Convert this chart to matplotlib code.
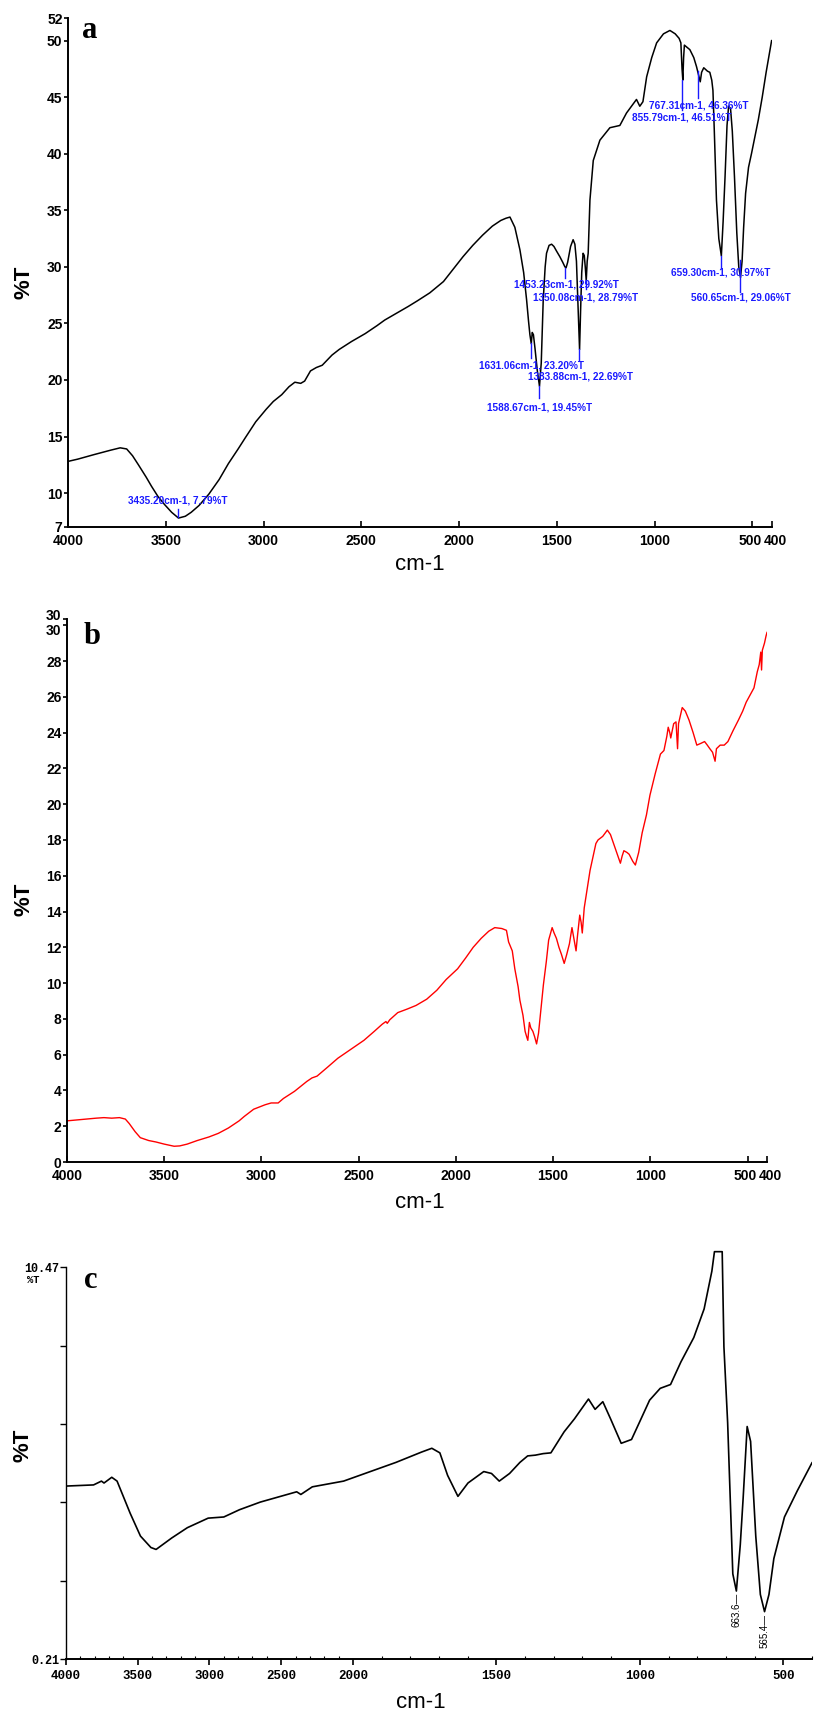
import numpy as np
import matplotlib.pyplot as plt
import matplotlib.transforms as mtransforms
from matplotlib.ticker import FixedLocator

plt.rcParams['font.family'] = ['Liberation Sans Narrow', 'Liberation Sans', 'DejaVu Sans']

# ---------------- panel a : wavenumber (cm-1) / %T ----------------
wn_a = [4000, 3950, 3867, 3780, 3733, 3700, 3670, 3640, 3600, 3573, 3540, 3507, 3470, 3435,
        3400, 3370, 3330, 3280, 3227, 3180, 3130, 3093, 3040, 2987, 2950, 2907, 2870, 2840,
        2810, 2790, 2760, 2730, 2700, 2650, 2613, 2550, 2480, 2420, 2380, 2320, 2260, 2213,
        2150, 2080, 2030, 1980, 1930, 1880, 1830, 1787, 1760, 1740, 1715, 1689, 1670, 1655,
        1645, 1638, 1631, 1626, 1620, 1612, 1600, 1589, 1580, 1570, 1560, 1553, 1540, 1527,
        1515, 1502, 1485, 1470, 1459, 1453, 1445, 1430, 1417, 1408, 1400, 1393, 1384, 1379,
        1373, 1366, 1360, 1355, 1350, 1345, 1340, 1331, 1314, 1280, 1229, 1178, 1144, 1093,
        1076, 1060, 1041, 1015, 990, 955, 922, 895, 875, 866, 860, 856, 852, 848, 820, 800,
        786, 775, 767, 760, 749, 730, 718, 708, 702, 695, 684, 672, 659, 650, 640, 630, 622,
        612, 603, 592, 580, 570, 561, 553, 545, 535, 520, 505, 490, 470, 450, 430, 410, 402]
t_a = [12.8, 13.0, 13.4, 13.8, 14.0, 13.9, 13.3, 12.5, 11.4, 10.6, 9.7, 9.0, 8.3, 7.79,
       7.95, 8.3, 8.9, 9.9, 11.2, 12.6, 13.9, 14.9, 16.3, 17.4, 18.1, 18.7, 19.4, 19.8,
       19.7, 19.9, 20.8, 21.1, 21.3, 22.2, 22.7, 23.4, 24.1, 24.8, 25.3, 25.9, 26.5, 27.0,
       27.7, 28.7, 29.8, 30.9, 31.9, 32.8, 33.6, 34.1, 34.3, 34.4, 33.5, 31.5, 29.5, 27.1,
       25.2, 24.0, 23.2, 24.2, 24.0, 22.8, 20.8, 19.45, 21.5, 27.0, 30.0, 31.2, 31.9, 32.0,
       31.8, 31.4, 30.9, 30.4, 30.0, 29.92, 30.4, 31.8, 32.4, 32.0, 30.5, 27.0, 22.69, 26.0,
       29.5, 31.2, 31.0, 30.0, 28.79, 30.5, 31.2, 35.9, 39.4, 41.2, 42.3, 42.5, 43.6, 44.8,
       44.2, 44.6, 46.8, 48.5, 49.8, 50.6, 50.9, 50.6, 50.2, 49.8, 47.5, 46.51, 48.5, 49.6, 49.2, 48.5,
       47.7, 46.9, 46.36, 47.2, 47.6, 47.3, 47.2, 46.5, 45.6, 42.0, 35.9, 32.5, 30.97, 34.0, 38.0, 42.5, 44.2,
       44.0, 42.0, 38.0, 33.0, 30.0, 29.06, 30.5, 33.5, 36.5, 38.8, 40.0, 41.3, 43.0, 45.0, 47.2, 49.2, 50.0]

# peak labels of panel a: text, label position, marker line (x, y from, y to)
peak_text = ['3435.20cm-1, 7.79%T', '1631.06cm-1, 23.20%T', '1383.88cm-1, 22.69%T',
             '1588.67cm-1, 19.45%T', '1453.23cm-1, 29.92%T', '1350.08cm-1, 28.79%T',
             '659.30cm-1, 30.97%T', '560.65cm-1, 29.06%T', '767.31cm-1, 46.36%T',
             '855.79cm-1, 46.51%T']
peak_lx = [3440, 1629, 1377, 1589, 1449, 1352, 661, 560, 776, 861]
peak_ly = [9.3, 21.3, 20.3, 17.6, 28.4, 27.3, 29.5, 27.3, 44.3, 43.2]
peak_x = [3435.2, 1633, 1386, 1590, 1456, 1352, 662, 564, 858, 777]
peak_y0 = [7.9, 23.3, 22.7, 19.45, 29.9, 28.8, 31.0, 30.6, 46.5, 47.3]
peak_y1 = [8.6, 21.9, 21.8, 18.4, 29.0, 28.0, 29.9, 27.8, 43.9, 44.9]

# ---------------- panel b ----------------
wn_b = [4000, 3950, 3900, 3850, 3810, 3770, 3730, 3700, 3680, 3650, 3623, 3580, 3543, 3500,
        3449, 3420, 3382, 3330, 3270, 3222, 3170, 3115, 3088, 3040, 2981, 2950, 2914, 2887,
        2830, 2767, 2740, 2714, 2660, 2607, 2540, 2473, 2420, 2379, 2360, 2353, 2340, 2299,
        2250, 2205, 2150, 2098, 2050, 1991, 1950, 1911, 1870, 1831, 1800, 1764, 1740, 1729,
        1710, 1697, 1680, 1671, 1655, 1644, 1636, 1630, 1622, 1615, 1604, 1595, 1585, 1575,
        1565, 1550, 1535, 1523, 1505, 1495, 1483, 1470, 1457, 1443, 1430, 1416, 1403, 1395,
        1382, 1375, 1363, 1356, 1350, 1340, 1323, 1310, 1296, 1280, 1269, 1245, 1221, 1205,
        1189, 1170, 1154, 1145, 1136, 1120, 1109, 1090, 1077, 1060, 1042, 1020, 1002, 975,
        948, 930, 915, 908, 900, 895, 880, 868, 860, 855, 836, 820, 801, 780, 761, 740, 721,
        707, 694, 680, 667, 660, 641, 620, 601, 575, 547, 525, 507, 487, 467, 450, 440, 432,
        428, 424, 413, 405, 400]
t_b = [2.30, 2.35, 2.40, 2.45, 2.48, 2.45, 2.48, 2.40, 2.15, 1.70, 1.36, 1.20, 1.12, 1.00,
       0.88, 0.90, 1.00, 1.20, 1.40, 1.60, 1.90, 2.30, 2.55, 2.95, 3.20, 3.30, 3.30, 3.55,
       3.95, 4.50, 4.70, 4.80, 5.30, 5.80, 6.30, 6.80, 7.30, 7.70, 7.85, 7.75, 7.95, 8.35,
       8.55, 8.75, 9.10, 9.60, 10.2, 10.8, 11.4, 12.0, 12.5, 12.9, 13.1, 13.05, 12.95, 12.3,
       11.8, 10.8, 9.8, 9.05, 8.2, 7.3, 7.0, 6.8, 7.8, 7.5, 7.3, 7.0, 6.6, 7.2,
       8.3, 9.9, 11.2, 12.4, 13.1, 12.8, 12.5, 12.0, 11.6, 11.1, 11.6, 12.2, 13.1, 12.6,
       11.8, 12.6, 13.8, 13.4, 12.8, 14.2, 15.4, 16.3, 17.0, 17.8, 18.0, 18.2, 18.55, 18.3,
       17.8, 17.2, 16.7, 17.1, 17.4, 17.3, 17.2, 16.8, 16.6, 17.3, 18.4, 19.4, 20.5, 21.7,
       22.8, 23.0, 23.8, 24.3, 24.0, 23.7, 24.5, 24.6, 23.1, 24.5, 25.4, 25.2, 24.7, 24.0, 23.3, 23.4, 23.5,
       23.3, 23.1, 22.9, 22.4, 23.1, 23.3, 23.3, 23.5, 24.1, 24.7, 25.2, 25.7, 26.1, 26.5, 27.4, 27.8, 28.5,
       27.5, 28.6, 29.0, 29.4, 29.6]

# ---------------- panel c ----------------
wn_c = [4000, 3808, 3753, 3735, 3681, 3644, 3553, 3481, 3408, 3372, 3263, 3154, 3009, 2900,
        2791, 2646, 2392, 2363, 2283, 2065, 1958, 1850, 1761, 1725, 1697, 1670, 1634, 1599,
        1544, 1517, 1490, 1454, 1418, 1391, 1364, 1337, 1310, 1264, 1228, 1179, 1156, 1129,
        1102, 1065, 1029, 1002, 966, 929, 893, 857, 812, 776, 749, 740, 713, 707, 694, 676,
        663.6, 650, 640, 626, 614, 596, 580, 565.4, 550, 533, 496, 451, 400]
t_c = [4.74, 4.77, 4.87, 4.82, 4.97, 4.87, 4.03, 3.43, 3.13, 3.08, 3.38, 3.65, 3.90, 3.93,
       4.12, 4.32, 4.59, 4.52, 4.72, 4.87, 5.07, 5.36, 5.63, 5.73, 5.61, 5.02, 4.47, 4.82,
       5.12, 5.07, 4.87, 5.07, 5.36, 5.53, 5.55, 5.59, 5.61, 6.16, 6.50, 7.02, 6.75, 6.95,
       6.50, 5.86, 5.96, 6.40, 6.99, 7.30, 7.40, 7.99, 8.63, 9.38, 10.37, 10.88, 10.88, 8.39, 6.40, 2.44,
       1.99, 3.2, 4.42, 6.30, 5.91, 3.43, 1.9, 1.45, 1.9, 2.84, 3.93, 4.62, 5.35]
c_peaks = ['663.6', '565.4']
c_peak_x = [663.6, 565.4]
c_peak_y = [1.5, 0.95]

W, H = 814, 1713
fig = plt.figure(figsize=(W / 100, H / 100), dpi=100)


def axes_px(left, top, right, bottom):
    return fig.add_axes([left / W, 1 - bottom / H, (right - left) / W, (bottom - top) / H])


def ftext(x, y, s, **kw):
    fig.text(x / W, 1 - y / H, s, **kw)


def nudge(label, dx, dy):
    # shift a tick label by a few pixels
    off = mtransforms.ScaledTranslation(dx / 100, dy / 100, fig.dpi_scale_trans)
    label.set_transform(label.get_transform() + off)


def style_ab(ax):
    for s in ['top', 'right']:
        ax.spines[s].set_visible(False)
    for s in ['left', 'bottom']:
        ax.spines[s].set_linewidth(1.4)
    ax.tick_params(axis='y', direction='out', length=3, width=1.2, pad=1, labelsize=10)
    ax.tick_params(axis='x', direction='in', length=4, width=1.2, pad=5, labelsize=10)
    for lab in ax.get_xticklabels() + ax.get_yticklabels():
        lab.set_fontweight('bold')
    xl = ax.get_xticklabels()
    nudge(xl[-2], -2, 0)
    nudge(xl[-1], 3, 0)


xt = [4000, 3500, 3000, 2500, 2000, 1500, 1000, 500, 400]

# panel a
ax = axes_px(68, 18, 772, 527)
ax.plot(wn_a, t_a, color='black', lw=1.1)
for i in range(len(peak_text)):
    ax.plot([peak_x[i], peak_x[i]], [peak_y0[i], peak_y1[i]], color='#1a1aff', lw=1)
    ax.text(peak_lx[i], peak_ly[i], peak_text[i], color='#1a1aff', fontsize=7.2,
            fontweight='bold', ha='center', va='center')
ax.set_xlim(4000, 400)
ax.set_ylim(7, 52)
ax.set_xticks(xt)
ax.set_xticklabels([str(v) for v in xt])
ax.set_yticks([7, 10, 15, 20, 25, 30, 35, 40, 45, 50, 52])
style_ab(ax)
ftext(90, 30, 'a', family='Liberation Serif', fontweight='bold', fontsize=22, ha='center', va='center')
ftext(24, 282, '%T', fontweight='bold', fontsize=16, rotation=90, ha='center', va='center')
ftext(420, 564, 'cm-1', fontsize=16, ha='center', va='center')

# panel b
ax = axes_px(67, 619, 767, 1162)
ax.plot(wn_b, t_b, color='#ff0000', lw=1.0)
ax.set_xlim(4000, 400)
ax.set_ylim(0, 30.35)
ax.set_xticks(xt)
ax.set_xticklabels([str(v) for v in xt])
yt_b = list(range(0, 31, 2)) + [30.35]
ax.set_yticks(yt_b)
ax.set_yticklabels([str(v) for v in range(0, 31, 2)] + ['30'])
style_ab(ax)
yl = ax.get_yticklabels()
nudge(yl[-1], 0, 4)
nudge(yl[-2], 0, -4)
ftext(92, 637, 'b', family='Liberation Serif', fontweight='bold', fontsize=22, ha='center', va='center')
ftext(24, 899, '%T', fontweight='bold', fontsize=16, rotation=90, ha='center', va='center')
ftext(420, 1203, 'cm-1', fontsize=16, ha='center', va='center')


# panel c : two-scale x axis (4000-2000 compressed by 2)
def fwd(x):
    x = np.asarray(x, dtype=float)
    return np.where(x <= 2000, x, 2000 + (x - 2000) / 2)


def inv(u):
    u = np.asarray(u, dtype=float)
    return np.where(u <= 2000, u, 2000 + (u - 2000) * 2)


ax = axes_px(66, 1249, 812, 1659)
ax.set_xscale('function', functions=(fwd, inv))
ax.plot(wn_c, t_c, color='black', lw=1.2)
for i in range(len(c_peaks)):
    ax.text(c_peak_x[i], c_peak_y[i], c_peaks[i] + '\u2014', rotation=90, fontsize=7,
            ha='center', va='center')
ax.set_xlim(4000, 400)
ax.set_ylim(0.21, 10.95)
for s in ['top', 'right']:
    ax.spines[s].set_visible(False)
ax.spines['left'].set_bounds(0.21, 10.47)
ax.spines['left'].set_linewidth(1.0)
ax.spines['bottom'].set_linewidth(1.4)
xt_c = [4000, 3500, 3000, 2500, 2000, 1500, 1000, 500]
ax.xaxis.set_major_locator(FixedLocator(xt_c))
ax.set_xticklabels([str(v) for v in xt_c], family='Liberation Mono', fontweight='bold', fontsize=9)
ax.xaxis.set_minor_locator(FixedLocator(list(range(400, 4001, 100))))
ax.tick_params(axis='x', which='major', direction='out', length=4, width=1.2, pad=4)
ax.tick_params(axis='x', which='minor', direction='in', length=2, width=0.8)
yt_c = list(np.linspace(0.21, 10.47, 6))
ax.set_yticks(yt_c)
ax.set_yticklabels(['0.21', '', '', '', '', '10.47'], family='Liberation Mono', fontweight='bold', fontsize=8.5)
ax.tick_params(axis='y', direction='out', length=4, width=1.0, pad=1)
ftext(91, 1281, 'c', family='Liberation Serif', fontweight='bold', fontsize=22, ha='center', va='center')
ftext(33, 1280, '%T', family='Liberation Mono', fontweight='bold', fontsize=7.5, ha='center', va='center')
ftext(23, 1445, '%T', fontweight='bold', fontsize=16, rotation=90, ha='center', va='center')
ftext(421, 1702, 'cm-1', fontsize=16, ha='center', va='center')

fig.savefig('out.png', dpi=100)
